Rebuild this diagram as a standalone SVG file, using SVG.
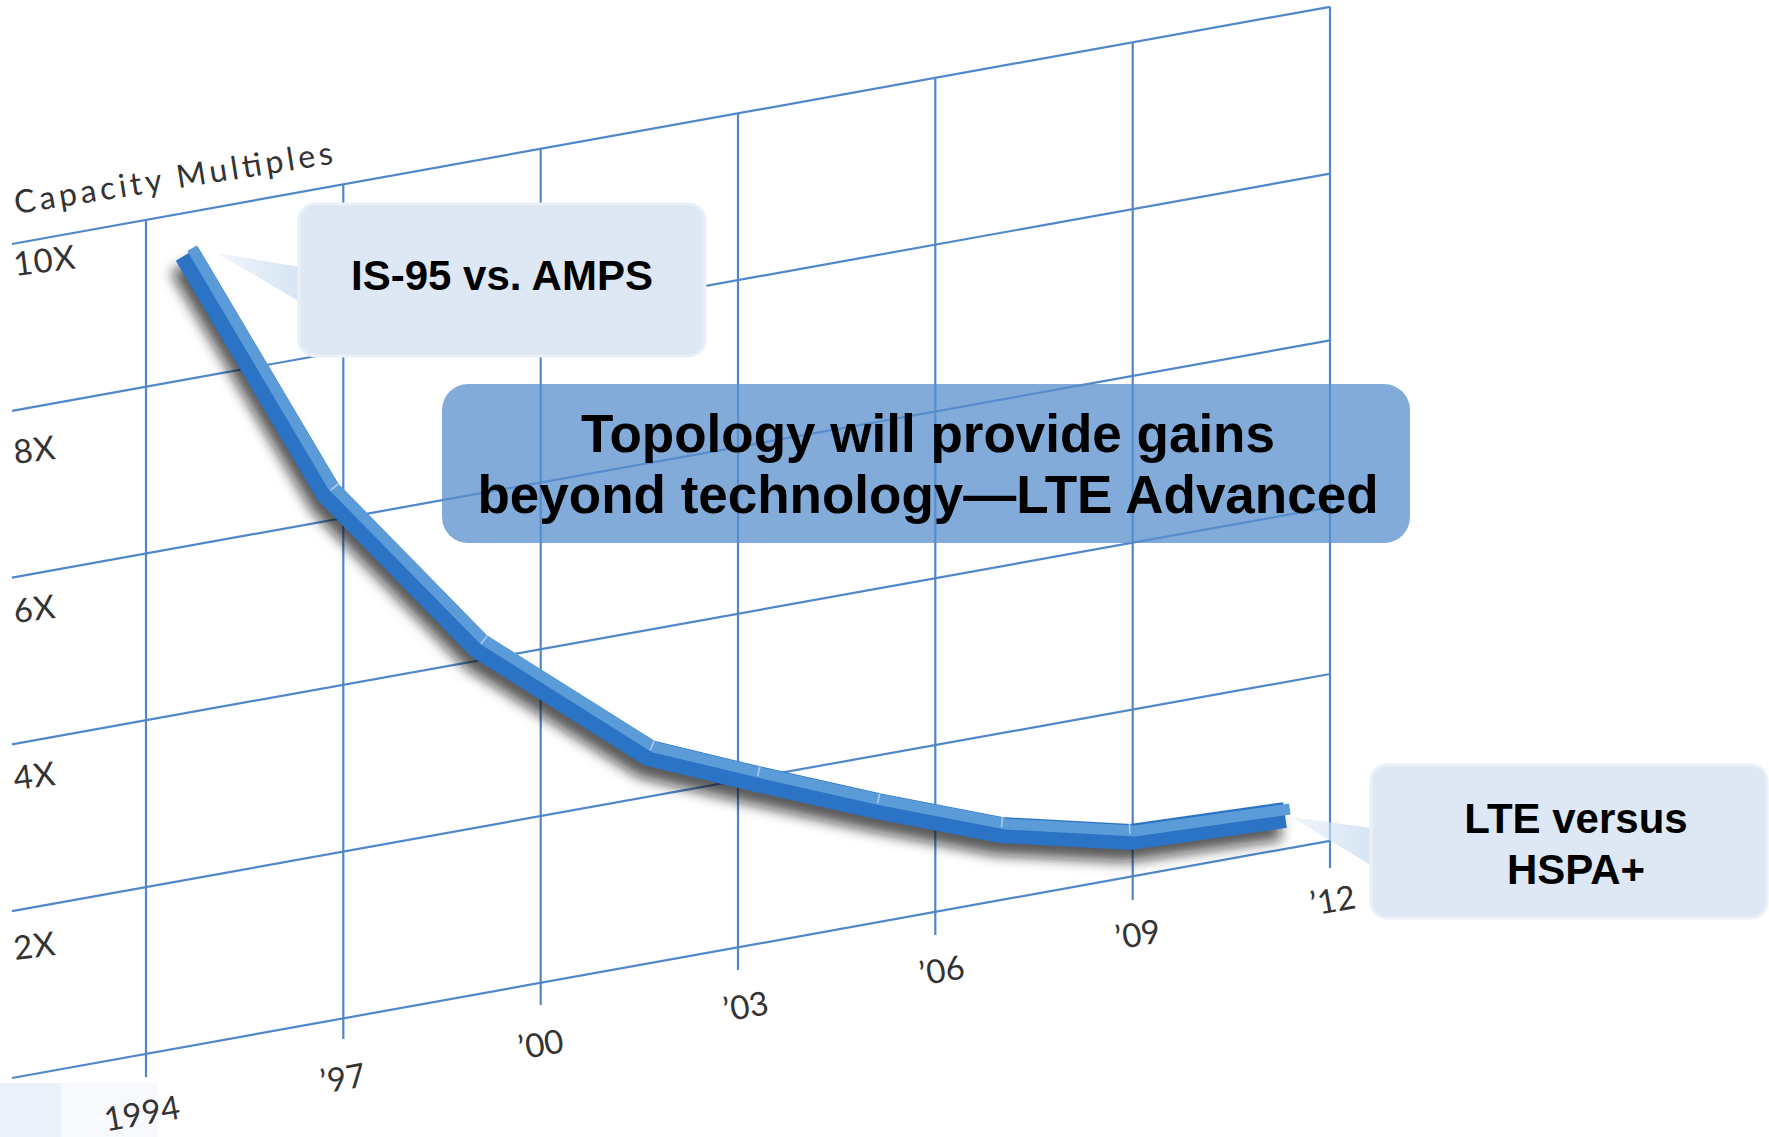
<svg xmlns="http://www.w3.org/2000/svg" width="1769" height="1137" viewBox="0 0 1769 1137">
  <style>
    .grid { stroke: #4f87c9; stroke-width: 2.2; fill: none; }
    .axis { font-family: "Lato", "DejaVu Sans", sans-serif; font-weight: normal; fill: #333333; }
    .ylab { font-size: 33px; letter-spacing: 1px; }
    .xlab { font-size: 33px; text-anchor: middle; }
    .callout-box { fill: #dee8f5; stroke: #e9f0f9; stroke-width: 3; }
    .callout-text { font-family: "Liberation Sans", Arial, sans-serif; font-weight: bold; fill: #000; text-anchor: middle; }
    .crease { stroke: #a9cbef; stroke-width: 1.6; }
  </style>
  <defs>
    <filter id="ribbonShadow" x="-10%" y="-10%" width="120%" height="130%">
      <feGaussianBlur stdDeviation="6.5"/>
    </filter>
    <linearGradient id="pointerFade" x1="0" y1="0" x2="1" y2="0">
      <stop offset="0" stop-color="#d4e3f4" stop-opacity="0.35"/>
      <stop offset="1" stop-color="#d4e3f4" stop-opacity="0.95"/>
    </linearGradient>
    <mask id="ribbonMask" maskUnits="userSpaceOnUse" x="0" y="0" width="1769" height="1137">
      <path d="M187,254 L328,492 L479,646 L649,753 L757,779 L877,806 L1001,830 L1130,837 L1285,815" fill="none" stroke="#fff" stroke-width="26" stroke-linejoin="miter"/>
    </mask>
  </defs>

  <rect width="1769" height="1137" fill="#ffffff"/>

  <!-- pale patch in the lower-left corner -->
  <rect x="61" y="1083" width="97" height="54" fill="#f7f9fd"/>
  <rect x="0" y="1083" width="61" height="54" fill="#ebf1f9"/>

  <!-- perspective grid -->
  <g id="grid">
    <line class="grid" x1="12" y1="244" x2="1330" y2="6.8"/>
    <line class="grid" x1="12" y1="410.8" x2="1330" y2="173.6"/>
    <line class="grid" x1="12" y1="577.6" x2="1330" y2="340.4"/>
    <line class="grid" x1="12" y1="744.4" x2="1330" y2="507.2"/>
    <line class="grid" x1="12" y1="911.2" x2="1330" y2="674"/>
    <line class="grid" x1="12" y1="1078" x2="1330" y2="840.8"/>
    <line class="grid" x1="146" y1="219.9" x2="146" y2="1077"/>
    <line class="grid" x1="343.3" y1="184.4" x2="343.3" y2="1039"/>
    <line class="grid" x1="540.7" y1="148.8" x2="540.7" y2="1005"/>
    <line class="grid" x1="738" y1="113.3" x2="738" y2="970"/>
    <line class="grid" x1="935.3" y1="77.8" x2="935.3" y2="935"/>
    <line class="grid" x1="1132.7" y1="42.3" x2="1132.7" y2="900"/>
    <line class="grid" x1="1330" y1="6.8" x2="1330" y2="868"/>
  </g>

  <!-- axis titles and tick labels -->
  <g id="axis-labels" class="axis">
    <text x="16" y="214" font-size="32" textLength="322" lengthAdjust="spacing" transform="rotate(-9 16 214)">Capacity Multiples</text>
    <text class="ylab" x="15" y="276" transform="rotate(-7 15 276)">10X</text>
    <text class="ylab" x="15" y="464" transform="rotate(-7 15 464)">8X</text>
    <text class="ylab" x="15" y="623" transform="rotate(-7 15 623)">6X</text>
    <text class="ylab" x="15" y="790" transform="rotate(-7 15 790)">4X</text>
    <text class="ylab" x="15" y="960" transform="rotate(-7 15 960)">2X</text>
    <text class="xlab" x="142" y="1125" transform="rotate(-10 142 1114)">1994</text>
    <text class="xlab" x="343" y="1090" transform="rotate(-10 343 1079)">’97</text>
    <text class="xlab" x="541" y="1056" transform="rotate(-10 541 1045)">’00</text>
    <text class="xlab" x="746" y="1018" transform="rotate(-10 746 1007)">’03</text>
    <text class="xlab" x="942" y="982" transform="rotate(-10 942 971)">’06</text>
    <text class="xlab" x="1138" y="946" transform="rotate(-10 1138 935)">’09</text>
    <text class="xlab" x="1333" y="912" transform="rotate(-10 1333 901)">’12</text>
  </g>

  <!-- capacity curve drawn as a bevelled ribbon -->
  <g id="capacity-curve">
    <path d="M187,254 L328,492 L479,646 L649,753 L757,779 L877,806 L1001,830 L1130,837 L1285,815" fill="none" stroke="#111111" stroke-opacity="0.7" stroke-width="26" stroke-linejoin="miter" transform="translate(-5 12)" filter="url(#ribbonShadow)"/>
    <path d="M187,254 L328,492 L479,646 L649,753 L757,779 L877,806 L1001,830 L1130,837 L1285,815" fill="none" stroke="#2a73c5" stroke-width="26" stroke-linejoin="miter"/>
    <path d="M187,254 L328,492 L479,646 L649,753 L757,779 L877,806 L1001,830 L1130,837 L1285,815" fill="none" stroke="#5b9bd8" stroke-width="11" stroke-linejoin="miter" transform="translate(5 -6)" mask="url(#ribbonMask)"/>
    <line class="crease" x1="330.4" y1="490.2" x2="338.5" y2="484"/>
    <line class="crease" x1="480.9" y1="643.7" x2="487.3" y2="635.8"/>
    <line class="crease" x1="650.2" y1="750.2" x2="654.1" y2="741"/>
    <line class="crease" x1="757.7" y1="776.1" x2="759.9" y2="766.5"/>
    <line class="crease" x1="877.6" y1="803.1" x2="879.7" y2="793.3"/>
    <line class="crease" x1="1001.4" y1="827" x2="1002.6" y2="817"/>
    <line class="crease" x1="1129.9" y1="834" x2="1129.5" y2="824"/>
  </g>

  <!-- callout pointers -->
  <g id="connectors">
    <polygon points="217,253 300,267 300,302" fill="url(#pointerFade)"/>
    <polygon points="1291,817 1372,828 1372,866" fill="url(#pointerFade)"/>
  </g>

  <g id="callout-is95">
    <rect class="callout-box" x="299" y="204" width="406" height="152" rx="16"/>
    <text class="callout-text" x="502" y="290" font-size="42">IS-95 vs. AMPS</text>
  </g>

  <g id="callout-lte">
    <rect class="callout-box" x="1371" y="765" width="396" height="153" rx="16"/>
    <text class="callout-text" x="1576" y="833" font-size="42">LTE versus</text>
    <text class="callout-text" x="1576" y="884" font-size="42">HSPA+</text>
  </g>

  <g id="banner-topology">
    <rect x="442" y="384" width="968" height="159" rx="26" fill="#5a8fcc" fill-opacity="0.75"/>
    <text class="callout-text" x="928" y="452" font-size="53">Topology will provide gains</text>
    <text class="callout-text" x="928" y="513" font-size="53">beyond technology—LTE Advanced</text>
  </g>
</svg>
